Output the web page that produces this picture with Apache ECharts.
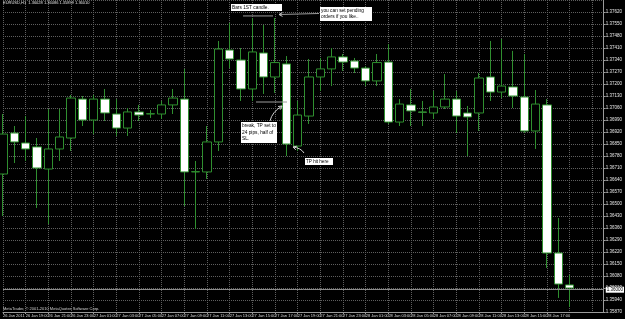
<!DOCTYPE html>
<html><head><meta charset="utf-8">
<script src="https://cdn.jsdelivr.net/npm/echarts/dist/echarts.min.js"></script>
<style>html,body{margin:0;padding:0;background:#000}#c{width:625px;height:319px}</style>
</head><body><div id="c"></div><script>
const categories = [
'26 Jan 17:00','26 Jan 18:00','26 Jan 19:00','26 Jan 20:00','26 Jan 21:00','26 Jan 22:00','26 Jan 23:00',
'27 Jan 00:00','27 Jan 01:00','27 Jan 02:00','27 Jan 03:00','27 Jan 04:00','27 Jan 05:00','27 Jan 06:00','27 Jan 07:00',
'27 Jan 08:00','27 Jan 09:00','27 Jan 10:00','27 Jan 11:00','27 Jan 12:00','27 Jan 13:00','27 Jan 14:00','27 Jan 15:00',
'27 Jan 16:00','27 Jan 17:00','27 Jan 18:00','27 Jan 19:00','27 Jan 20:00','27 Jan 21:00','27 Jan 22:00','27 Jan 23:00',
'28 Jan 00:00','28 Jan 01:00','28 Jan 02:00','28 Jan 03:00','28 Jan 04:00','28 Jan 05:00','28 Jan 06:00','28 Jan 07:00',
'28 Jan 08:00','28 Jan 09:00','28 Jan 10:00','28 Jan 11:00','28 Jan 12:00','28 Jan 13:00','28 Jan 14:00','28 Jan 15:00',
'28 Jan 16:00','28 Jan 17:00','28 Jan 18:00','28 Jan 19:00','28 Jan 20:00','28 Jan 21:00','28 Jan 22:00'];
const firstLabel = '26 Jan 2011';
const openV = [1.36675,1.36914,1.36856,1.36833,1.36704,1.36821,1.36885,1.37112,1.36990,1.37112,
1.37025,1.36943,1.37037,1.37025,1.37025,1.37078,1.37112,1.36687,1.36687,1.36862,
1.37398,1.37340,1.37171,1.37381,1.37241,1.37317,1.36838,1.37013,1.37241,1.37288,
1.37358,1.37334,1.37293,1.37218,1.37328,1.36978,1.37078,1.37037,1.37031,1.37066,
1.37112,1.37031,1.37031,1.37241,1.37153,1.37183,1.37124,1.36926,1.37078,1.36214,
1.36028];
const closeV = [1.36908,1.36862,1.36821,1.36710,1.36821,1.36891,1.37118,1.36990,1.37112,1.37031,
1.36943,1.37037,1.37019,1.37027,1.37078,1.37118,1.36687,1.36689,1.36862,1.37404,
1.37346,1.37171,1.37387,1.37241,1.37325,1.36850,1.37019,1.37241,1.37288,1.37358,
1.37328,1.37293,1.37218,1.37325,1.36978,1.37083,1.37043,1.37035,1.37066,1.37112,
1.37013,1.37008,1.37235,1.37153,1.37188,1.37130,1.36926,1.37083,1.36214,1.36033,
1.36010];
const lowV = [1.36430,1.36739,1.36751,1.36477,1.36383,1.36751,1.36809,1.36955,1.36908,1.36984,
1.36897,1.36897,1.36984,1.37002,1.36996,1.37025,1.36488,1.36354,1.36646,1.36809,
1.37293,1.37101,1.37101,1.37142,1.37148,1.36780,1.36809,1.36967,1.37159,1.37188,
1.37276,1.37264,1.37188,1.37188,1.36967,1.36955,1.36955,1.36955,1.36996,1.37054,
1.36914,1.36780,1.36926,1.37101,1.37118,1.37060,1.36914,1.36821,1.36127,1.35952,
1.35899];
const highV = [1.37025,1.36955,1.37013,1.36885,1.37054,1.37054,1.37136,1.37130,1.37136,1.37171,
1.37112,1.37060,1.37078,1.37048,1.37101,1.37171,1.37288,1.36751,1.36955,1.37451,
1.37556,1.37410,1.37585,1.37544,1.37585,1.37363,1.37101,1.37346,1.37352,1.37410,
1.37375,1.37352,1.37305,1.37375,1.37433,1.37112,1.37171,1.37101,1.37159,1.37258,
1.37159,1.37072,1.37264,1.37451,1.37463,1.37393,1.37375,1.37165,1.37112,1.36418,
1.36086];
const upperLevel = 1.37597;
const lowerLevel = 1.37095;
const yMin = 1.3587, yStep = 0.0007, yTicks = 26;

const n = openV.length;
const last = n - 1;
const candles = openV.map((o, i) => [o, closeV[i], lowV[i], highV[i]]);
const titleText = 'EURUSD,H1  ' + [openV[last], highV[last], lowV[last], closeV[last]].map(v => v.toFixed(5)).join(' ');
const green = '#2f8f2f';
const FONT = 'Liberation Sans';

const chart = echarts.init(document.getElementById('c'), null, {renderer: 'canvas'});
chart.setOption({
  backgroundColor: '#000',
  animation: false,
  grid: {left: 0, right: 11.5, top: 0, bottom: 7, containLabel: false},
  xAxis: {
    type: 'category', data: categories, boundaryGap: false,
    axisLine: {lineStyle: {color: '#9a9a9a', width: 1}},
    axisTick: {show: true, length: 2, interval: i => i % 2 === 0 && i <= last, lineStyle: {color: '#9a9a9a'}},
    axisLabel: {
      color: '#dcdcdc', fontSize: 4, fontFamily: FONT, align: 'left', margin: 2,
      interval: i => i % 2 === 0 && i <= last,
      formatter: (v, i) => i === 0 ? firstLabel : v
    },
    splitLine: {show: true, interval: i => i % 2 === 0, lineStyle: {color: '#5e5e5e', type: 'dotted', width: 1}}
  },
  yAxis: {
    type: 'value', position: 'right', scale: true,
    min: yMin, max: yMin + yTicks * yStep, interval: yStep,
    axisLine: {show: true, lineStyle: {color: '#9a9a9a', width: 1}},
    axisTick: {show: true, length: 2, lineStyle: {color: '#9a9a9a'}},
    axisLabel: {color: '#e6e6e6', fontSize: 4.5, fontFamily: FONT, margin: 2, showMaxLabel: false,
      formatter: v => v.toFixed(5)},
    splitLine: {show: true, lineStyle: {color: '#5e5e5e', type: 'dotted', width: 1}}
  },
  series: [{
    type: 'candlestick', data: candles, barWidth: 9, clip: true,
    itemStyle: {color: '#000', color0: '#fff', borderColor: green, borderColor0: green, borderWidth: 1},
    markLine: {
      silent: true, symbol: 'none', animation: false,
      data: [{yAxis: closeV[last]}],
      lineStyle: {color: '#8c8c8c', type: 'solid', width: 1},
      label: {position: 'end', distance: 2, formatter: p => Number(p.value).toFixed(5),
        color: '#000', backgroundColor: '#fff', fontSize: 4.5, fontFamily: FONT, padding: [1, 1, 0, 1]}
    }
  }]
});

const yUp = chart.convertToPixel({gridIndex: 0}, [0, upperLevel])[1];
const yLo = chart.convertToPixel({gridIndex: 0}, [0, lowerLevel])[1];
const boxText = (x, y, w, h, text, fs, lh) => ([
  {type: 'rect', shape: {x, y, width: w, height: h}, style: {fill: '#fff'}, z: 100},
  {type: 'text', x: x + 1, y: y + 0.5, z: 101,
    style: {text, fill: '#000', font: fs + 'px ' + FONT, lineHeight: lh, textVerticalAlign: 'top'}}
]);
const arrowHead = (x, y, ang) => ({type: 'polyline', z: 100,
  shape: {points: [[x + 4 * Math.cos(ang - 0.5), y + 4 * Math.sin(ang - 0.5)], [x, y], [x + 4 * Math.cos(ang + 0.5), y + 4 * Math.sin(ang + 0.5)]]},
  style: {stroke: '#cfcfcf', lineWidth: 1, fill: null}});

chart.setOption({graphic: [
  {type: 'text', x: 3, y: 1, z: 100, style: {text: titleText, fill: '#e0e0e0', font: '4px ' + FONT, textVerticalAlign: 'top'}},
  {type: 'text', x: 3, y: 307, z: 100, style: {text: 'MetaTrader, \u00a9 2001-2010 MetaQuotes Software Corp.', fill: '#d0d0d0', font: '4px ' + FONT, textVerticalAlign: 'top'}},
  // level lines
  {type: 'line', z: 99, shape: {x1: 243, y1: yUp, x2: 273, y2: yUp}, style: {stroke: '#9c9c9c', lineWidth: 1}},
  {type: 'line', z: 99, shape: {x1: 256, y1: yLo, x2: 287, y2: yLo}, style: {stroke: '#9c9c9c', lineWidth: 1}},
  // arrow from pending box
  {type: 'line', z: 99, shape: {x1: 279, y1: 14.5, x2: 319, y2: 13.5}, style: {stroke: '#9c9c9c', lineWidth: 1}},
  arrowHead(279, 14.5, 0),
  // arrow from break box
  {type: 'bezierCurve', z: 100, shape: {x1: 270, y1: 121, cpx1: 272, cpy1: 112, x2: 282, y2: 106}, style: {stroke: '#cfcfcf', lineWidth: 1, fill: null}},
  arrowHead(282, 106, Math.PI * 0.8),
  // arrow from TP hit box
  {type: 'bezierCurve', z: 100, shape: {x1: 304, y1: 153, cpx1: 301, cpy1: 148, x2: 293, y2: 147}, style: {stroke: '#cfcfcf', lineWidth: 1, fill: null}},
  arrowHead(293, 147, 0.3),
  ...boxText(231, 4, 51, 7, 'Bars 1ST candle.', 4.8, 6),
  ...boxText(320, 7, 52, 14, 'you can set pending\norders if you like..', 4.8, 6.2),
  ...boxText(241, 122, 36, 21, 'break, TP set to\n24 pips, half of\nSL.', 4.8, 6.5),
  ...boxText(305, 158, 28, 7, 'TP hit here', 4.6, 6)
]});
</script></body></html>
